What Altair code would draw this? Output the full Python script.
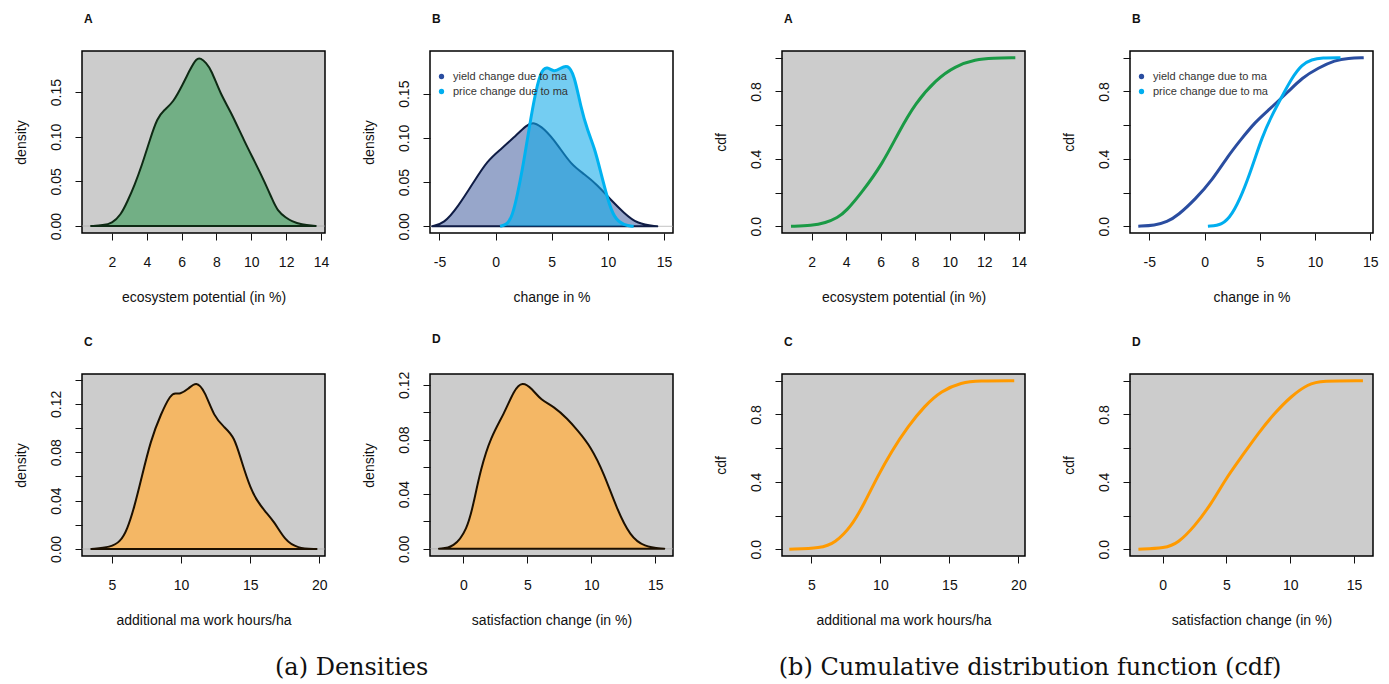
import altair as alt
import pandas as pd

FONT = "Liberation Sans"
SERIF = "DejaVu Serif"

# ---------------- data ----------------
# (a) densities
eco_dens_x = [0.8, 1.5, 2.0, 2.5, 2.9, 3.3, 3.7, 4.2, 4.6, 5.0, 5.5, 6.05, 6.5, 6.85, 7.1, 7.4, 7.7,
              8.25, 8.8, 9.6, 10.2, 10.75, 11.2, 11.5, 12.0, 12.3, 12.85, 13.7]
eco_dens_y = [0.0, 0.0008, 0.003, 0.012, 0.028, 0.046, 0.067, 0.098, 0.121, 0.130, 0.138, 0.158, 0.176,
              0.188, 0.188, 0.183, 0.175, 0.147, 0.129, 0.095, 0.072, 0.050, 0.030, 0.017, 0.009, 0.0056,
              0.0015, 0.0]

yield_dens_x = [-5.65, -4.6, -3.4, -1.9, -0.75, 0.45, 1.6, 2.8, 3.4, 4.3, 5.5, 6.7, 7.9, 9.05, 10.25,
                11.45, 12.6, 14.4]
yield_dens_y = [0.0, 0.003, 0.021, 0.051, 0.074, 0.087, 0.100, 0.115, 0.118, 0.111, 0.093, 0.070, 0.059,
                0.047, 0.030, 0.015, 0.0026, 0.0]

price_dens_x = [0.4, 1.05, 1.5, 1.95, 2.4, 2.8, 3.4, 4.0, 4.6, 5.2, 5.8, 6.4, 7.0, 7.6, 8.2, 8.8, 9.35,
                9.95, 10.55, 11.45, 12.3]
price_dens_y = [0.0, 0.002, 0.012, 0.036, 0.065, 0.096, 0.142, 0.176, 0.181, 0.174, 0.179, 0.183, 0.172,
                0.134, 0.108, 0.089, 0.062, 0.032, 0.009, 0.001, 0.0]

hours_dens_x = [3.5, 4.9, 5.6, 6.1, 6.6, 7.1, 7.8, 8.55, 9.25, 9.6, 9.9, 10.5, 11.1, 11.7, 12.4, 13.1,
                13.85, 14.35, 15.05, 15.5, 16.0, 16.75, 17.5, 18.4, 19.8]
hours_dens_y = [0.0, 0.0014, 0.006, 0.016, 0.034, 0.057, 0.090, 0.112, 0.128, 0.129, 0.128, 0.132, 0.139,
                0.131, 0.109, 0.101, 0.093, 0.073, 0.049, 0.040, 0.032, 0.0225, 0.0074, 0.0005, 0.0]

sat_dens_x = [-1.9, -0.75, 0.3, 0.8, 1.35, 2.15, 3.2, 3.95, 4.6, 5.4, 6.05, 7.1, 8.15, 8.9, 9.95, 11.0,
              12.0, 13.05, 14.1, 15.7]
sat_dens_y = [0.0, 0.0007, 0.014, 0.033, 0.058, 0.082, 0.099, 0.116, 0.1227, 0.117, 0.109, 0.104, 0.095,
              0.087, 0.075, 0.055, 0.029, 0.009, 0.0015, 0.0]

# (b) cumulative distribution functions
eco_cdf_x = [0.8, 2.0, 2.8, 3.5, 4.0, 4.9, 6.1, 7.05, 8.0, 9.2, 10.3, 11.5, 12.5, 13.8]
eco_cdf_y = [0.0, 0.003, 0.02, 0.05, 0.09, 0.20, 0.37, 0.56, 0.73, 0.87, 0.95, 0.99, 0.998, 1.0]

yield_cdf_x = [-6.0, -4.5, -3.4, -2.4, -0.85, 0.65, 2.15, 3.35, 4.6, 5.8, 7.6, 8.8, 10.3, 11.8, 13.0, 14.4]
yield_cdf_y = [0.0, 0.005, 0.025, 0.065, 0.16, 0.27, 0.42, 0.52, 0.62, 0.69, 0.80, 0.88, 0.94, 0.985, 0.998, 1.0]

price_cdf_x = [0.3, 1.6, 2.5, 3.4, 4.3, 5.2, 6.1, 7.0, 7.9, 8.8, 9.7, 10.6, 12.3]
price_cdf_y = [0.0, 0.006, 0.07, 0.19, 0.35, 0.53, 0.66, 0.77, 0.88, 0.96, 0.99, 1.0, 1.0]

hours_cdf_x = [3.4, 5.7, 6.7, 7.9, 8.85, 9.8, 10.8, 12.0, 13.2, 14.4, 15.9, 17.1, 19.7]
hours_cdf_y = [0.0, 0.006, 0.036, 0.135, 0.274, 0.433, 0.58, 0.73, 0.85, 0.94, 0.99, 1.0, 1.0]

sat_cdf_x = [-1.9, 0.2, 1.2, 2.5, 3.85, 4.9, 6.2, 7.5, 8.8, 10.1, 11.4, 12.45, 15.7]
sat_cdf_y = [0.0, 0.006, 0.036, 0.135, 0.274, 0.413, 0.55, 0.69, 0.81, 0.91, 0.98, 1.0, 1.0]

series_names = ["yield change due to ma", "price change due to ma"]

# tick values / labels
ticks_eco = [2, 4, 6, 8, 10, 12, 14]
ticks_change = [-5, 0, 5, 10, 15]
ticks_hours = [5, 10, 15, 20]
ticks_sat = [0, 5, 10, 15]
yt_dens_ab = [0.0, 0.05, 0.10, 0.15]
yt_dens_c = [0.0, 0.02, 0.04, 0.06, 0.08, 0.10, 0.12, 0.14]
yt_dens_d = [0.0, 0.02, 0.04, 0.06, 0.08, 0.10, 0.12]
yl_dens_cd = ["0.00", "0.04", "0.08", "0.12"]
yt_cdf = [0.0, 0.2, 0.4, 0.6, 0.8, 1.0]
yl_cdf = ["0.0", "0.4", "0.8"]

# axis ranges (plot region limits)
dom = {
    "dA": ([0.28, 14.23], [-0.0078, 0.196]),
    "dB": ([-5.84, 15.8], [-0.0076, 0.1983]),
    "dC": ([2.83, 20.41], [-0.0058, 0.1447]),
    "dD": ([-2.6, 16.38], [-0.0053, 0.128]),
    "cA": ([0.28, 14.36], [-0.04, 1.04]),
    "cB": ([-6.75, 15.24], [-0.04, 1.04]),
    "cC": ([2.87, 20.48], [-0.04, 1.04]),
    "cD": ([-2.56, 16.49], [-0.04, 1.04]),
}

W, H = 243, 182
INTERP = "basis"


def xy_df(xs, ys):
    return pd.DataFrame({"x": xs, "y": ys})


def encs(key, xticks, xtitle, yticks, yfmt, ylabels, ytitle):
    xdom, ydom = dom[key]
    if ylabels is None:
        ylab_expr = f"format(datum.value, '{yfmt}')"
    else:
        arr = "[" + ",".join(f"'{s}'" for s in ylabels) + "]"
        ylab_expr = (f"indexof({arr}, format(datum.value, '{yfmt}')) >= 0 ? "
                     f"format(datum.value, '{yfmt}') : ''")
    x = alt.X("x:Q", scale=alt.Scale(domain=xdom, nice=False, zero=False),
              axis=alt.Axis(values=xticks, title=xtitle, labelExpr="toString(datum.value)",
                            tickSize=7, labelPadding=15, titlePadding=21, domain=False, grid=False,
                            labelFlush=False, labelOverlap=False))
    y = alt.Y("y:Q", scale=alt.Scale(domain=ydom, nice=False, zero=False),
              axis=alt.Axis(values=yticks, title=ytitle, labelExpr=ylab_expr,
                            labelAngle=270, labelAlign="center", labelBaseline="bottom",
                            tickSize=7, labelPadding=12, titlePadding=21, domain=False, grid=False,
                            labelFlush=False, labelOverlap=False))
    return x, y


def letter_title(letter):
    return alt.TitleParams(letter, anchor="start", frame="group", dx=2, offset=25,
                           fontSize=12, fontWeight="bold", font=FONT, color="#111")


def legend_layer(colors):
    return (alt.Chart(pd.DataFrame({"series": series_names}))
            .transform_filter("false")
            .mark_point(filled=True, size=28, opacity=1)
            .encode(color=alt.Color("series:N",
                                    scale=alt.Scale(domain=series_names, range=colors),
                                    legend=alt.Legend(orient="none", legendX=6, legendY=20, title=None,
                                                      labelFont=FONT, labelFontSize=11, labelColor="#333",
                                                      symbolType="circle", symbolSize=28,
                                                      symbolStrokeWidth=0, rowPadding=3, padding=0,
                                                      labelOffset=6, symbolOpacity=1))))


def zero_rule(x, y):
    return (alt.Chart(pd.DataFrame({"y": [0.0]}))
            .mark_rule(color="#A9A9A9", strokeWidth=0.7)
            .encode(y=y))


def density_area(xs, ys, x, y, fill, opacity, stroke, sw):
    return (alt.Chart(xy_df(xs, ys))
            .mark_area(interpolate=INTERP, fill=fill, fillOpacity=opacity,
                       stroke=stroke, strokeWidth=sw, strokeJoin="round")
            .encode(x=x, y=y))


def fill_only(xs, ys, x, y, fill, opacity):
    return (alt.Chart(xy_df(xs, ys))
            .mark_area(interpolate=INTERP, fill=fill, fillOpacity=opacity, strokeWidth=0)
            .encode(x=x, y=y))


def curve(xs, ys, x, y, color, sw=3):
    return (alt.Chart(xy_df(xs, ys))
            .mark_line(interpolate=INTERP, color=color, strokeWidth=sw, strokeCap="butt")
            .encode(x=x, y=y))


# ---------------- density panels ----------------
x, y = encs("dA", ticks_eco, "ecosystem potential (in %)", yt_dens_ab, ".2f", None, "density")
dA = alt.layer(zero_rule(x, y),
               density_area(eco_dens_x, eco_dens_y, x, y, "#72AF85", 1, "#0E2A14", 2)
               ).properties(width=W, height=H, title=letter_title("A"))

x, y = encs("dB", ticks_change, "change in %", yt_dens_ab, ".2f", None, "density")
dB = alt.layer(zero_rule(x, y),
               density_area(yield_dens_x, yield_dens_y, x, y, "#22418F", 0.47, "#0F1C45", 2),
               fill_only(price_dens_x, price_dens_y, x, y, "#10A8E8", 0.58),
               curve(price_dens_x, price_dens_y, x, y, "#00B2F0", 3),
               legend_layer(["#2A4DA0", "#00AEEF"])
               ).properties(width=W, height=H, title=letter_title("B"))

x, y = encs("dC", ticks_hours, "additional ma work hours/ha", yt_dens_c, ".2f", yl_dens_cd, "density")
dC = alt.layer(zero_rule(x, y),
               density_area(hours_dens_x, hours_dens_y, x, y, "#F4B765", 1, "#1C1000", 2)
               ).properties(width=W, height=H, title=letter_title("C"))

x, y = encs("dD", ticks_sat, "satisfaction change (in %)", yt_dens_d, ".2f", yl_dens_cd, "density")
dD = alt.layer(zero_rule(x, y),
               density_area(sat_dens_x, sat_dens_y, x, y, "#F4B765", 1, "#1C1000", 2)
               ).properties(width=W, height=H, title=letter_title("D"))

# ---------------- cdf panels ----------------
x, y = encs("cA", ticks_eco, "ecosystem potential (in %)", yt_cdf, ".1f", yl_cdf, "cdf")
cA = curve(eco_cdf_x, eco_cdf_y, x, y, "#1A9A45").properties(width=W, height=H, title=letter_title("A"))

x, y = encs("cB", ticks_change, "change in %", yt_cdf, ".1f", yl_cdf, "cdf")
cB = alt.layer(curve(yield_cdf_x, yield_cdf_y, x, y, "#2A4DA0"),
               curve(price_cdf_x, price_cdf_y, x, y, "#00AEEF"),
               legend_layer(["#2A4DA0", "#00AEEF"])
               ).properties(width=W, height=H, title=letter_title("B"))

x, y = encs("cC", ticks_hours, "additional ma work hours/ha", yt_cdf, ".1f", yl_cdf, "cdf")
cC = curve(hours_cdf_x, hours_cdf_y, x, y, "#FF9A00").properties(width=W, height=H, title=letter_title("C"))

x, y = encs("cD", ticks_sat, "satisfaction change (in %)", yt_cdf, ".1f", yl_cdf, "cdf")
cD = curve(sat_cdf_x, sat_cdf_y, x, y, "#FF9A00").properties(width=W, height=H, title=letter_title("D"))


def caption(text, dx):
    return alt.TitleParams(text, orient="bottom", anchor="middle", font=SERIF, fontSize=24,
                           fontWeight="normal", color="#111", offset=28, dx=dx)


groupA = alt.concat(dA, dB, dC, dD, columns=2, spacing={"row": 141, "column": 105}, bounds="flush",
                    title=caption("(a) Densities", 8)).resolve_scale(color="independent")
groupB = alt.concat(cA, cB, cC, cD, columns=2, spacing={"row": 141, "column": 105}, bounds="flush",
                    title=caption("(b) Cumulative distribution function (cdf)", -16)).resolve_scale(color="independent")

chart = (alt.hconcat(groupA, groupB, spacing=38)
         .resolve_scale(color="independent")
         .properties(padding={"left": 13, "top": 12, "right": 5, "bottom": 0}, background="white")
         .configure_view(fill="#CCCCCC", stroke="black", strokeWidth=1.5)
         .configure_axis(labelFont=FONT, titleFont=FONT, labelFontSize=14, titleFontSize=14,
                         titleFontWeight="normal", labelColor="#111", titleColor="#111",
                         tickColor="#111", tickWidth=1))

chart.save("out.html", embed_options={"renderer": "svg", "actions": False})
